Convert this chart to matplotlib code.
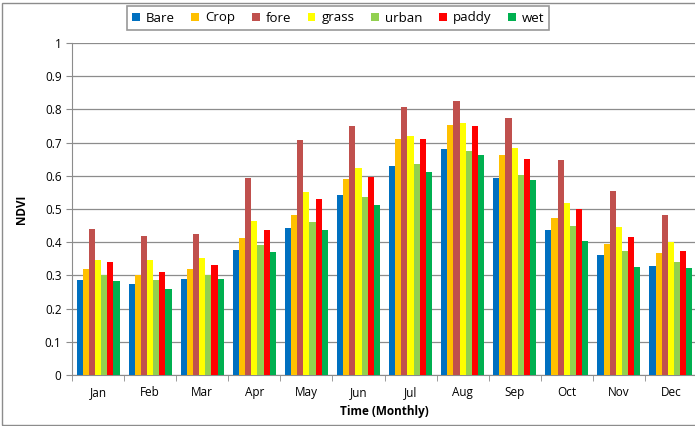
import numpy as np
import matplotlib.pyplot as plt
from matplotlib.patches import Rectangle

months = ['Jan', 'Feb', 'Mar', 'Apr', 'May', 'Jun', 'Jul', 'Aug', 'Sep', 'Oct', 'Nov', 'Dec']
classes = ['Bare', 'Crop', 'fore', 'grass', 'urban', 'paddy', 'wet']
colors = ['#0070C0', '#FFC000', '#C0504D', '#FFFF00', '#92D050', '#FF0000', '#00B050']

bare  = [0.285, 0.273, 0.290, 0.376, 0.444, 0.541, 0.631, 0.680, 0.593, 0.438, 0.361, 0.328]
crop  = [0.320, 0.302, 0.320, 0.413, 0.481, 0.589, 0.711, 0.752, 0.664, 0.472, 0.395, 0.368]
fore  = [0.440, 0.420, 0.424, 0.593, 0.708, 0.750, 0.806, 0.825, 0.774, 0.647, 0.555, 0.482]
grass = [0.347, 0.347, 0.351, 0.465, 0.552, 0.624, 0.720, 0.758, 0.685, 0.518, 0.446, 0.400]
urban = [0.302, 0.285, 0.300, 0.393, 0.460, 0.535, 0.636, 0.675, 0.601, 0.450, 0.374, 0.340]
paddy = [0.340, 0.311, 0.332, 0.437, 0.530, 0.595, 0.712, 0.749, 0.652, 0.500, 0.416, 0.372]
wet   = [0.282, 0.258, 0.290, 0.370, 0.436, 0.511, 0.611, 0.663, 0.587, 0.404, 0.326, 0.322]
series = [bare, crop, fore, grass, urban, paddy, wet]

plt.rcParams['font.family'] = ['Open Sans', 'DejaVu Sans']

fig = plt.figure(figsize=(6.95, 4.26), dpi=100)
ax = fig.add_axes([72/695, 51/426, 625/695, 332/426])

x = np.arange(len(months))
w = 0.118
for i, (name, vals) in enumerate(zip(classes, series)):
    ax.bar(x + (i - 3) * w, vals, w, color=colors[i], label=name, zorder=3)

ax.set_xlim(-0.5, 11.5)
ax.set_ylim(0, 1)
ax.set_yticks(np.arange(0, 1.01, 0.1))
ax.set_yticklabels(['0', '0.1', '0.2', '0.3', '0.4', '0.5', '0.6', '0.7', '0.8', '0.9', '1'])
ax.yaxis.grid(True, color='#8c8c8c', linewidth=0.9, zorder=0)
ax.set_xticks(x)
ax.set_xticklabels(months)
ax.set_xticks(np.arange(-0.5, 12, 1), minor=True)
ax.tick_params(axis='x', which='major', length=0, pad=8, labelsize=8.5)
ax.tick_params(axis='x', which='minor', length=4, color='#8c8c8c')
ax.tick_params(axis='y', length=4, color='#8c8c8c', labelsize=8.5)
for s in ['top', 'right']:
    ax.spines[s].set_visible(False)
for s in ['left', 'bottom']:
    ax.spines[s].set_color('#8c8c8c')

ax.set_xlabel('Time (Monthly)', fontweight='bold', fontsize=8.5, labelpad=4)
ax.set_ylabel('NDVI', fontweight='bold', fontsize=8.5, labelpad=12)

leg = fig.legend(loc='center', bbox_to_anchor=(338/695, 1 - 18/426), ncol=7,
                 fontsize=9.5, frameon=True, fancybox=False, handlelength=0.6,
                 handleheight=0.6, handletextpad=0.45, columnspacing=1.25,
                 borderpad=0.4, edgecolor='#7f7f7f')
leg.get_frame().set_linewidth(1.2)

fig.patches.append(Rectangle((0.003, 0.003), 1.2, 0.99, transform=fig.transFigure,
                             fill=False, edgecolor='#8c8c8c', linewidth=1.0))

fig.savefig('out.png', dpi=100)
